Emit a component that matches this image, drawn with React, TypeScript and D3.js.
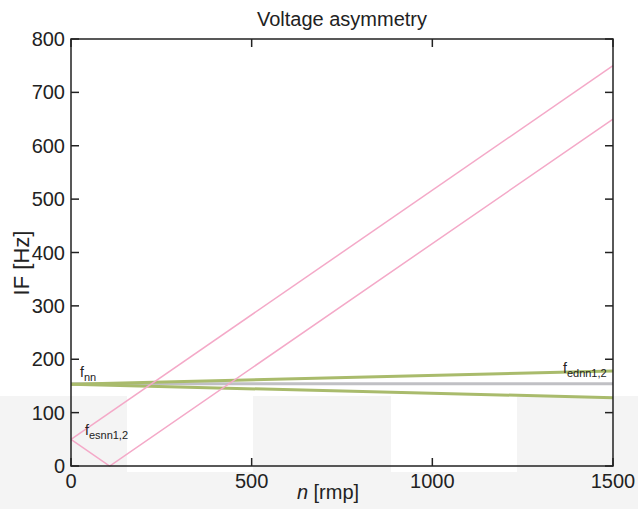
import React from "react";
import * as d3 from "d3";

const xTicks = [0, 500, 1000, 1500];
const yTicks = [0, 100, 200, 300, 400, 500, 600, 700, 800];

// f_esnn1,2 (pink lines)
const esnnUpperN = [0, 1500];
const esnnUpperF = [50, 750];
const esnnLowerN = [0, 107, 1500];
const esnnLowerF = [50, 0, 650];

// f_ednn1,2 (green lines)
const ednnN = [0, 1500];
const ednnUpperF = [153, 178];
const ednnLowerF = [153, 128];

// f_nn (gray line)
const nnN = [0, 1500];
const nnF = [154, 154];

const W = 638;
const H = 509;
const L = 71, R = 613, T = 39, B = 466;
const FONT = "'Liberation Sans', Arial, Helvetica, sans-serif";

export default function App() {
  const x = d3.scaleLinear().domain([0, 1500]).range([L, R]);
  const y = d3.scaleLinear().domain([0, 800]).range([B, T]);
  const line = d3
    .line<[number, number]>()
    .x((d) => x(d[0]))
    .y((d) => y(d[1]));
  const zip = (a: number[], b: number[]) => a.map((v, i) => [v, b[i]] as [number, number]);
  const tick = 8;

  return (
    <svg
      width={W}
      height={H}
      style={{ position: "absolute", left: 0, top: 0, background: "#fff" }}
      fontFamily={FONT}
    >
      {/* background artifact band */}
      <rect x={0} y={396} width={W} height={H - 396} fill="#f4f4f4" />
      <rect x={127} y={396} width={126} height={76} fill="#fff" />
      <rect x={391} y={396} width={126} height={76} fill="#fff" />
      <rect x={L} y={T} width={R - L} height={B - T} fill="#fff" />
      {/* white patches inside plot match reference: bg inside plot stays white except band */}
      <rect x={L} y={396} width={127 - L} height={B - 396} fill="#f4f4f4" />
      <rect x={253} y={396} width={391 - 253} height={B - 396} fill="#f4f4f4" />
      <rect x={517} y={396} width={R - 517} height={B - 396} fill="#f4f4f4" />

      {/* lines */}
      <path d={line(zip(nnN, nnF)) || ""} fill="none" stroke="#c0c0c4" strokeWidth={3} />
      <path d={line(zip(ednnN, ednnUpperF)) || ""} fill="none" stroke="#a9bb6c" strokeWidth={3} />
      <path d={line(zip(ednnN, ednnLowerF)) || ""} fill="none" stroke="#a9bb6c" strokeWidth={3} />
      <path d={line(zip(esnnUpperN, esnnUpperF)) || ""} fill="none" stroke="#f4a9c8" strokeWidth={1.5} />
      <path d={line(zip(esnnLowerN, esnnLowerF)) || ""} fill="none" stroke="#f4a9c8" strokeWidth={1.5} />

      {/* box */}
      <rect x={L} y={T} width={R - L} height={B - T} fill="none" stroke="#222" strokeWidth={1.5} />

      {/* x ticks */}
      {xTicks.map((t) => (
        <g key={"x" + t}>
          <line x1={x(t)} x2={x(t)} y1={B} y2={B - tick} stroke="#222" strokeWidth={1.5} />
          <line x1={x(t)} x2={x(t)} y1={T} y2={T + tick} stroke="#222" strokeWidth={1.5} />
          <text x={x(t)} y={488} textAnchor="middle" fontSize={20} fill="#222">
            {t}
          </text>
        </g>
      ))}
      {/* y ticks */}
      {yTicks.map((t) => (
        <g key={"y" + t}>
          <line x1={L} x2={L + tick} y1={y(t)} y2={y(t)} stroke="#222" strokeWidth={1.5} />
          <line x1={R} x2={R - tick} y1={y(t)} y2={y(t)} stroke="#222" strokeWidth={1.5} />
          <text x={65} y={y(t) + 7} textAnchor="end" fontSize={20} fill="#222">
            {t}
          </text>
        </g>
      ))}

      {/* title */}
      <text x={342} y={26} textAnchor="middle" fontSize={20} fill="#222">
        Voltage asymmetry
      </text>
      {/* axis labels */}
      <text x={328} y={499} textAnchor="middle" fontSize={20} fill="#222">
        <tspan fontStyle="italic">n</tspan> [rmp]
      </text>
      <text
        transform="translate(29,263) rotate(-90)"
        textAnchor="middle"
        fontSize={22}
        fill="#222"
      >
        IF [Hz]
      </text>

      {/* annotations */}
      <text x={80} y={377} fontSize={14} fill="#222">
        f<tspan fontSize={11} dy={4}>nn</tspan>
      </text>
      <text x={85} y={435} fontSize={14} fill="#222">
        f<tspan fontSize={11} dy={4}>esnn1,2</tspan>
      </text>
      <text x={563} y={373} fontSize={14} fill="#222">
        f<tspan fontSize={11} dy={4}>ednn1,2</tspan>
      </text>
    </svg>
  );
}
